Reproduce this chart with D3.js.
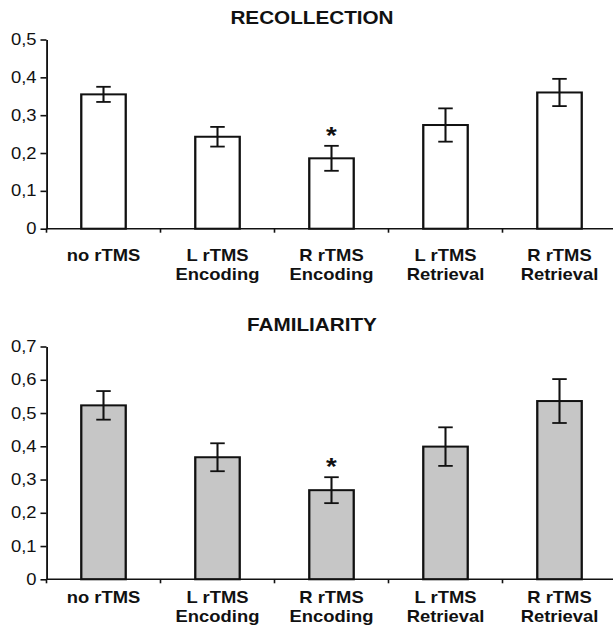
<!DOCTYPE html>
<meta charset="utf-8">
<html>
<style>
  body { margin: 0; background: #fff; }
  svg text { fill: #111; }
</style>
<body>
<div id="chart"></div>
<script src="https://d3js.org/d3.v7.min.js"></script>
<script>
  // data
  const labelLines = [["no rTMS"], ["L rTMS", "Encoding"], ["R rTMS", "Encoding"], ["L rTMS", "Retrieval"], ["R rTMS", "Retrieval"]];
  const categories = ["no rTMS", "L rTMS Encoding", "R rTMS Encoding", "L rTMS Retrieval", "R rTMS Retrieval"];
  const recollection = [0.355, 0.243, 0.186, 0.274, 0.360];
  const recollectionErr = [0.020, 0.026, 0.033, 0.044, 0.036];
  const familiarity = [0.523, 0.367, 0.268, 0.399, 0.536];
  const familiarityErr = [0.043, 0.042, 0.039, 0.058, 0.066];
  const recollectionTicks = [0, 0.1, 0.2, 0.3, 0.4, 0.5];
  const familiarityTicks = [0, 0.1, 0.2, 0.3, 0.4, 0.5, 0.6, 0.7];
  const significant = ["R rTMS Encoding"];

  // the original figure is stretched a bit horizontally, so draw in a narrower box and stretch it
  const stretch = 1.15;
  const W = 613, H = 630;
  const w = W / stretch;

  const svg = d3.select("#chart")
    .append("svg")
    .attr("width", W)
    .attr("height", H)
    .attr("viewBox", "0 0 " + w + " " + H)
    .attr("preserveAspectRatio", "none")
    .style("font-family", "'Liberation Sans', Arial, sans-serif");

  // one category band per bar, tick marks sit on band edges
  const x = d3.scaleBand()
    .domain(categories)
    .range([46.5 / stretch, 616.5 / stretch])
    .padding(0);
  const barW = x.bandwidth() * 0.39;

  function fmt(d) {
    return d === 0 ? "0" : d3.format(".1f")(d).replace(".", ",");
  }

  function drawPanel(p) {
    const g = svg.append("g");

    const y = d3.scaleLinear()
      .domain(p.domain)
      .range(p.range);

    // title
    g.append("text")
      .attr("x", 312 / stretch)
      .attr("y", p.titleY)
      .attr("text-anchor", "middle")
      .style("font-size", "18px")
      .style("font-weight", "bold")
      .text(p.title);

    // bars
    g.selectAll(".bar")
      .data(p.values)
      .enter()
      .append("rect")
      .attr("x", (d, i) => x(categories[i]) + (x.bandwidth() - barW) / 2)
      .attr("y", d => y(d))
      .attr("width", barW)
      .attr("height", d => y(0) - y(d))
      .style("fill", p.fill)
      .style("stroke", "#111")
      .style("stroke-width", 2);

    // error bars
    const cap = 14.5 / stretch / 2;
    const err = g.selectAll(".err")
      .data(p.values)
      .enter()
      .append("g")
      .style("stroke", "#111")
      .style("stroke-width", 1.8);
    err.append("line")
      .attr("x1", (d, i) => x(categories[i]) + x.bandwidth() / 2)
      .attr("x2", (d, i) => x(categories[i]) + x.bandwidth() / 2)
      .attr("y1", (d, i) => y(d + p.err[i]))
      .attr("y2", (d, i) => y(d - p.err[i]));
    err.append("line")
      .attr("x1", (d, i) => x(categories[i]) + x.bandwidth() / 2 - cap)
      .attr("x2", (d, i) => x(categories[i]) + x.bandwidth() / 2 + cap)
      .attr("y1", (d, i) => y(d + p.err[i]))
      .attr("y2", (d, i) => y(d + p.err[i]));
    err.append("line")
      .attr("x1", (d, i) => x(categories[i]) + x.bandwidth() / 2 - cap)
      .attr("x2", (d, i) => x(categories[i]) + x.bandwidth() / 2 + cap)
      .attr("y1", (d, i) => y(d - p.err[i]))
      .attr("y2", (d, i) => y(d - p.err[i]));

    // asterisk over the significant bar
    g.selectAll(".star")
      .data(categories.filter(c => significant.includes(c)))
      .enter()
      .append("text")
      .attr("x", d => x(d) + x.bandwidth() / 2)
      .attr("y", d => {
        const i = categories.indexOf(d);
        return y(p.values[i] + p.err[i]) - 2;
      })
      .attr("text-anchor", "middle")
      .style("font-size", "24px")
      .style("font-weight", "bold")
      .text("*");

    // y axis
    const yAxis = g.append("g")
      .attr("transform", "translate(" + x.range()[0] + ",0)")
      .call(d3.axisLeft(y).tickValues(p.ticks).tickFormat(fmt).tickSize(6 / stretch).tickSizeOuter(0).tickPadding(3.5));
    yAxis.selectAll("text")
      .style("font-size", "16px")
      .style("fill", "#111");
    yAxis.selectAll("line, path")
      .style("stroke", "#111")
      .style("stroke-width", 1.6);

    // x axis line with ticks on band edges
    g.append("line")
      .attr("x1", x.range()[0])
      .attr("x2", w)
      .attr("y1", y(0))
      .attr("y2", y(0))
      .style("stroke", "#111")
      .style("stroke-width", 1.6);
    const edges = categories.map(c => x(c)).concat([x.range()[1]]);
    g.selectAll(".edge")
      .data(edges)
      .enter()
      .append("line")
      .attr("x1", d => d)
      .attr("x2", d => d)
      .attr("y1", y(0))
      .attr("y2", y(0) + 4)
      .style("stroke", "#111")
      .style("stroke-width", 1.4);

    // category labels, one or two lines
    const lab = g.selectAll(".lab")
      .data(labelLines)
      .enter()
      .append("text")
      .attr("text-anchor", "middle")
      .style("font-size", "16px")
      .style("font-weight", "bold");
    lab.selectAll("tspan")
      .data((d, i) => d.map(t => ({ t: t, i: i })))
      .enter()
      .append("tspan")
      .attr("x", d => x(categories[d.i]) + x.bandwidth() / 2)
      .attr("y", (d, j) => p.labelY + j * 19)
      .text(d => d.t);
  }

  drawPanel({
    title: "RECOLLECTION",
    titleY: 24.5,
    domain: [0, 0.5],
    range: [228.7, 39.5],
    ticks: recollectionTicks,
    values: recollection,
    err: recollectionErr,
    fill: "#ffffff",
    labelY: 261
  });

  drawPanel({
    title: "FAMILIARITY",
    titleY: 331,
    domain: [0, 0.7],
    range: [579.3, 346.5],
    ticks: familiarityTicks,
    values: familiarity,
    err: familiarityErr,
    fill: "#c6c6c6",
    labelY: 603
  });
</script>
</body>
</html>
